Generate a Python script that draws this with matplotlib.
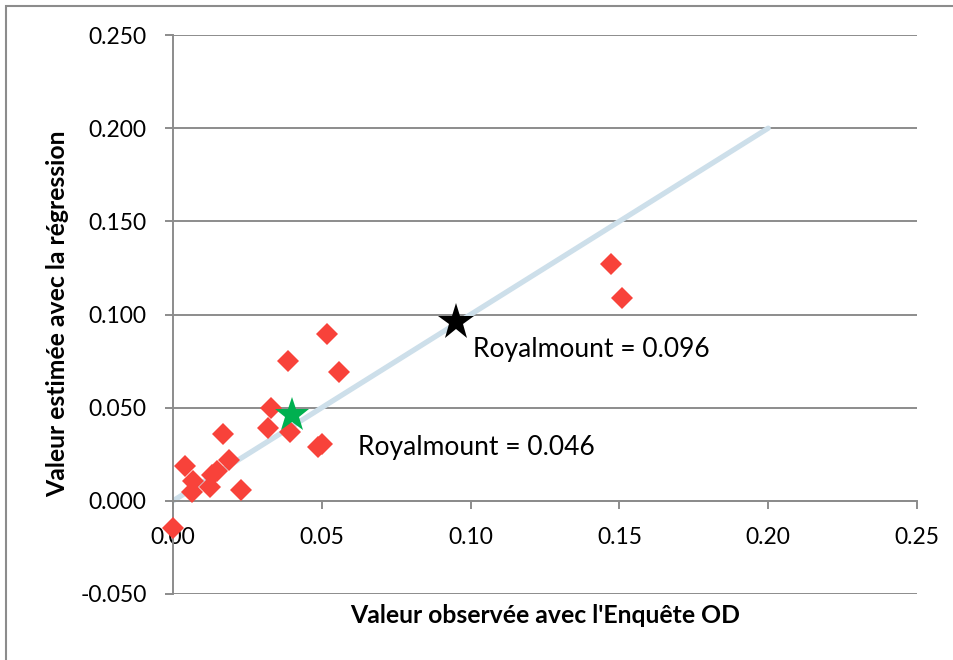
import matplotlib.pyplot as plt
from matplotlib.patches import Rectangle

plt.rcParams['font.family'] = ['Lato', 'DejaVu Sans']

# Observed (Enquête OD) vs estimated (regression) values per zone
observed = [0.000, 0.0040, 0.0068, 0.0063, 0.0130, 0.0149, 0.0124, 0.0167,
            0.0189, 0.0230, 0.0329, 0.0318, 0.0393, 0.0499, 0.0488, 0.0519,
            0.0387, 0.0558, 0.1472, 0.1508]
estimated = [-0.0148, 0.0188, 0.0106, 0.0048, 0.0138, 0.0160, 0.0072, 0.0357,
             0.0219, 0.0057, 0.0496, 0.0389, 0.0367, 0.0303, 0.0290, 0.0895,
             0.0750, 0.0690, 0.1270, 0.1087]

# Royalmount points (observed, estimated)
royal_a = (0.095, 0.096)
royal_b = (0.040, 0.046)

# y = x reference line
diag_x = [0.0, 0.2]
diag_y = [0.0, 0.2]

xticks = [0.00, 0.05, 0.10, 0.15, 0.20, 0.25]
yticks = [-0.05, 0.0, 0.05, 0.10, 0.15, 0.20, 0.25]

fig = plt.figure(figsize=(9.54, 6.6), dpi=100)
fig.patches.append(Rectangle((6 / 954, -0.5), 2, 1.5 - 6 / 660, transform=fig.transFigure,
                             fill=False, edgecolor='#8c8c8c', linewidth=1.5))

ax = fig.add_axes([173 / 954, 1 - 594 / 660, 744 / 954, 559 / 660])
ax.set_xlim(0, 0.25)
ax.set_ylim(-0.05, 0.25)

gray = '#8c8c8c'
ax.set_yticks(yticks)
ax.set_yticklabels([f'{v:.3f}' for v in yticks])
ax.set_xticks(xticks)
ax.set_xticklabels([f'{v:.2f}' for v in xticks])
ax.grid(axis='y', color=gray, linewidth=1.4, zorder=0)
ax.set_axisbelow(True)

for side in ['top', 'right']:
    ax.spines[side].set_visible(False)
ax.spines['bottom'].set_position(('data', 0))
ax.spines['left'].set_color(gray)
ax.spines['bottom'].set_color(gray)
ax.spines['left'].set_linewidth(1.4)
ax.spines['bottom'].set_linewidth(1.4)
ax.tick_params(axis='both', direction='out', length=6, width=1.4, color=gray,
               labelsize=16.5, labelcolor='black')
ax.tick_params(axis='y', pad=13)
ax.tick_params(axis='x', pad=13)

ax.plot(diag_x, diag_y, color='#cddfea', linewidth=3.8, solid_capstyle='round', zorder=2)
ax.plot(observed, estimated, linestyle='none', marker='D', markersize=11.5,
        color='#f8423a', markeredgewidth=0, zorder=3, clip_on=False)
ax.plot(*royal_b, marker='*', markersize=26, color='#00b050', markeredgewidth=0,
        linestyle='none', zorder=4)
ax.plot(*royal_a, marker='*', markersize=28, color='black', markeredgewidth=0,
        linestyle='none', zorder=4)

ax.text(0.1007, 0.0772, f'Royalmount = {royal_a[1]:.3f}', fontsize=19, va='baseline')
ax.text(0.0621, 0.0245, f'Royalmount = {royal_b[1]:.3f}', fontsize=19, va='baseline')

fig.text(545 / 954, 1 - 623 / 660, "Valeur observée avec l'Enquête OD",
         fontsize=17.8, fontweight='bold', ha='center', va='baseline')
fig.text(58 / 954, 1 - 314 / 660, 'Valeur estimée avec la régression',
         fontsize=17.8, fontweight='bold', ha='center', va='center', rotation=90)

fig.savefig('out.png', dpi=100)
